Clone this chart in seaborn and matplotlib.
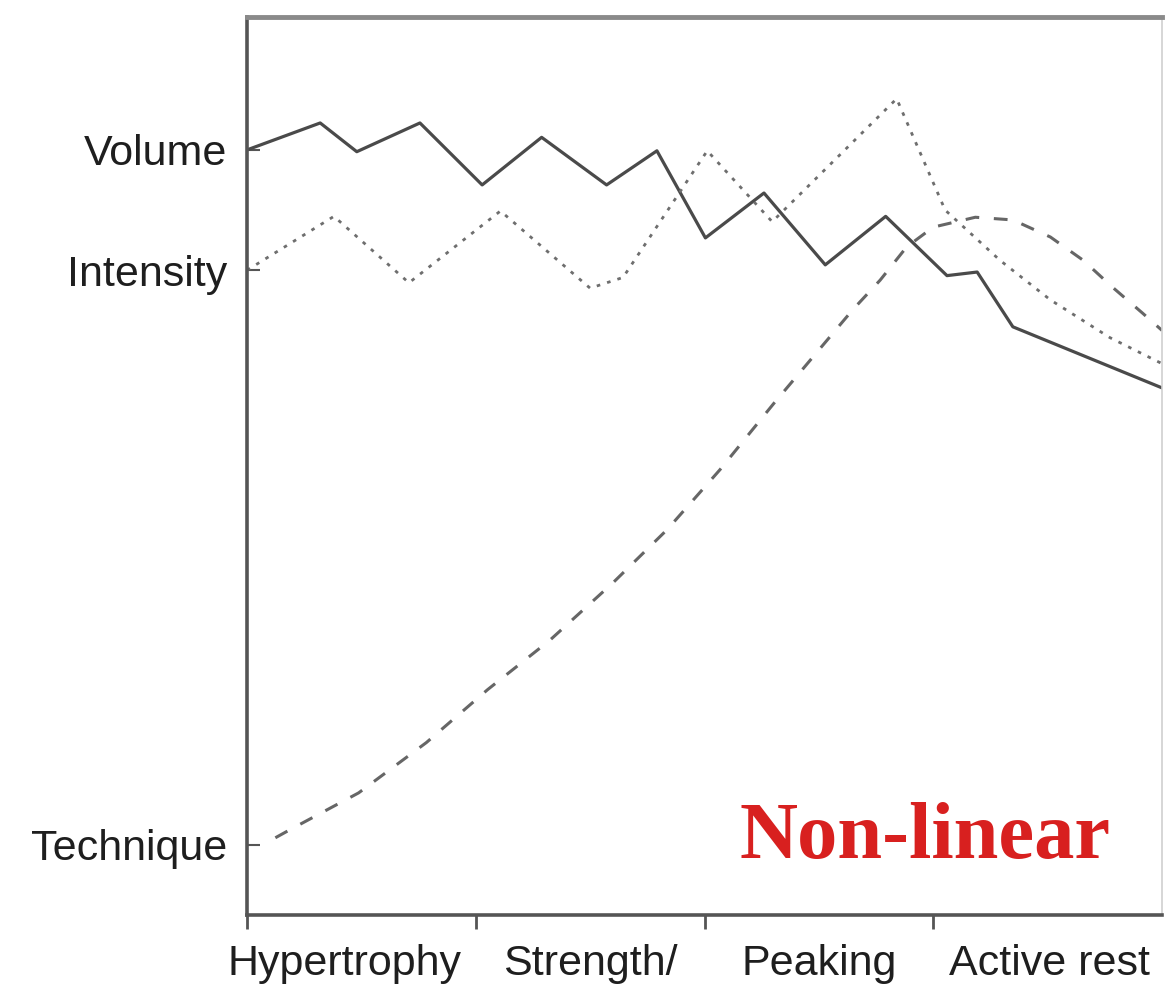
import matplotlib
matplotlib.use("Agg")
import matplotlib.pyplot as plt
import seaborn as sns
import pandas as pd
from matplotlib.ticker import FixedLocator, NullFormatter, FixedFormatter

# ---- data (x: 0-100 across the four phases, y: 0-100 arbitrary level) ----
phases = ["Hypertrophy", "Strength/", "Peaking", "Active rest"]
phase_bounds = [0, 25, 50, 75]
phase_label_pos = [10.7, 37.5, 62.5, 87.7]

y_tick_labels = ["Technique", "Intensity", "Volume"]
y_tick_values = [7.8, 71.8, 85.2]

volume_x = [0, 8.0, 12.0, 18.9, 25.7, 32.2, 39.3, 44.8, 50.1, 56.5, 63.2, 69.8, 76.5, 79.8, 83.7, 100]
volume_y = [85.2, 88.2, 85.0, 88.2, 81.3, 86.6, 81.3, 85.1, 75.4, 80.4, 72.4, 77.8, 71.2, 71.6, 65.5, 58.7]

intensity_x = [0, 9.5, 17.7, 27.7, 37.5, 41.1, 50.3, 57.4, 71.0, 76.3, 82.3, 87.8, 94.3, 100]
intensity_y = [71.8, 77.8, 70.4, 78.4, 69.8, 71.0, 85.1, 77.2, 90.9, 78.5, 72.9, 68.5, 64.3, 61.4]

technique_x = [3.1, 4.7, 12.2, 19.6, 26.3, 33.1, 40.0, 45.9, 51.7, 57.6, 66.2, 69.2, 72.1,
               75.0, 79.6, 83.7, 87.8, 91.4, 94.6, 97.9, 100]
technique_y = [8.6, 9.5, 13.6, 19.2, 25.1, 30.6, 37.0, 42.9, 49.6, 57.0, 67.4, 70.7, 74.4,
               76.6, 77.7, 77.4, 75.5, 72.9, 69.9, 67.0, 65.1]

annotation = "Non-linear"

# ---- style ----
sns.set_style("white")
plt.rcParams["font.family"] = ["Liberation Sans", "DejaVu Sans"]

fig = plt.figure(figsize=(11.65, 9.91), dpi=100)
ax = fig.add_axes([247 / 1165, 76 / 991, (1162 - 247) / 1165, (915 - 17) / 991])

df_v = pd.DataFrame({"x": volume_x, "y": volume_y})
df_i = pd.DataFrame({"x": intensity_x, "y": intensity_y})
df_t = pd.DataFrame({"x": technique_x, "y": technique_y})

sns.lineplot(data=df_v, x="x", y="y", ax=ax, sort=False, estimator=None,
             color="#4a4a4a", linewidth=2.3, linestyle="-")
sns.lineplot(data=df_i, x="x", y="y", ax=ax, sort=False, estimator=None,
             color="#6e6e6e", linewidth=2.0, linestyle=(0, (1.3, 2.6)))
sns.lineplot(data=df_t, x="x", y="y", ax=ax, sort=False, estimator=None,
             color="#666666", linewidth=2.2, linestyle=(0, (4.5, 4.8)))

ax.set_xlim(0, 100)
ax.set_ylim(0, 100)
ax.set_xlabel("")
ax.set_ylabel("")

# x axis: ticks at phase boundaries, labels within phases
ax.xaxis.set_major_locator(FixedLocator(phase_bounds))
ax.xaxis.set_major_formatter(NullFormatter())
ax.xaxis.set_minor_locator(FixedLocator(phase_label_pos))
ax.xaxis.set_minor_formatter(FixedFormatter(phases))
ax.tick_params(axis="x", which="major", direction="out", length=10, width=2,
               color="#555555", bottom=True)
ax.tick_params(axis="x", which="minor", length=0, pad=21, labelsize=31,
               labelcolor="#1e1e1e", bottom=True)

# y axis
ax.set_yticks(y_tick_values)
ax.set_yticklabels(y_tick_labels)
ax.tick_params(axis="y", which="major", direction="in", length=9, width=1.5,
               color="#555555", pad=14, labelsize=31, labelcolor="#1e1e1e", left=True)

# spines
for side in ["left", "bottom"]:
    ax.spines[side].set_color("#555555")
    ax.spines[side].set_linewidth(2.6)
ax.spines["top"].set_color("#8a8a8a")
ax.spines["top"].set_linewidth(3.5)
ax.spines["right"].set_color("#cfcfcf")
ax.spines["right"].set_linewidth(1.2)

ax.text(0.741, 0.0635, annotation, transform=ax.transAxes, ha="center", va="baseline",
        fontsize=58, fontweight="bold", color="#d8201f",
        family=["Liberation Serif", "DejaVu Serif"])

fig.savefig("out.png", dpi=100)
